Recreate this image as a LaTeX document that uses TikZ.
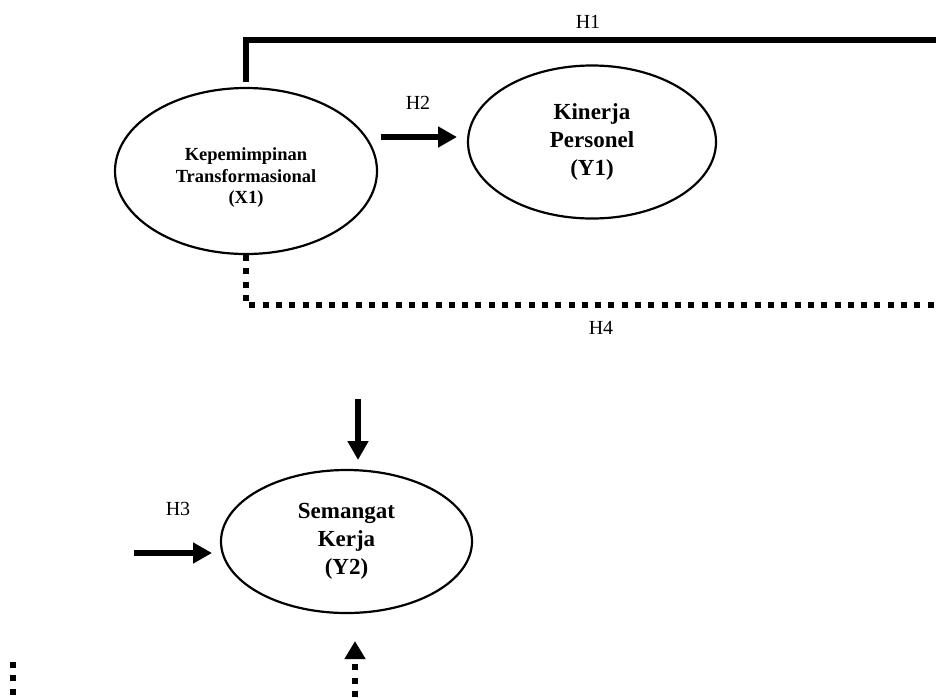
\documentclass[tikz,border=0pt]{standalone}
\usepackage{fontspec}
\setmainfont{Liberation Serif}
\usetikzlibrary{arrows.meta,shapes.geometric}

\begin{document}
\begin{tikzpicture}[x=1pt, y=-1pt]
		\tikzstyle{var}=[draw, ellipse, line width=2.2pt, inner sep=0pt, align=center, font=\bfseries\fontsize{23}{28}\selectfont];
		\tikzstyle{solid line}=[line width=6pt];
		\tikzstyle{dot line}=[line width=6pt, dash pattern=on 6pt off 7.3pt];
		\tikzstyle{arr}=[line width=6.5pt, -{Triangle[length=19pt, width=20pt]}];
		\tikzstyle{hlabel}=[font=\fontsize{20}{24}\selectfont];

		\useasboundingbox (0,0) rectangle (936,697);

		\node[var, minimum width=262pt, minimum height=166pt, text height=69pt, font=\bfseries\fontsize{18.5}{21.5}\selectfont] (X1) at (246,171) {Kepemimpinan\\Transformasional\\(X1)};
		\node[var, minimum width=248pt, minimum height=153pt] (Y1) at (592,142) {Kinerja\\Personel\\(Y1)};
		\node[var, minimum width=251pt, minimum height=143pt] (Y2) at (346.5,541.5) {Semangat\\Kerja\\(Y2)};

		\node[hlabel] (H1) at (588,22) {H1};
		\node[hlabel] (H2) at (418,103) {H2};
		\node[hlabel] (H3) at (178,509) {H3};
		\node[hlabel] (H4) at (601,328) {H4};

		\coordinate (h1end) at (936,40);
		\coordinate (h4end) at (936,305);
		\coordinate (h2a) at (381,137);
		\coordinate (h2b) at (457,137);
		\coordinate (dna) at (358,399);
		\coordinate (dnb) at (358,460);
		\coordinate (h3a) at (134,553);
		\coordinate (h3b) at (212,553);
		\coordinate (upa) at (355,697);
		\coordinate (upb) at (355,641);
		\coordinate (lfa) at (13,662);
		\coordinate (lfb) at (13,697);

		\draw[solid line] ([yshift=5pt]X1.north) |- (h1end);
		\draw[dot line] (X1.south) |- (h4end);
		\draw[arr] (h2a) -- (h2b);
		\draw[arr] (dna) -- (dnb);
		\draw[arr] (h3a) -- (h3b);
		\draw[dot line, -{Triangle[length=18pt, width=20pt]}] (upa) -- (upb);
		\draw[dot line] (lfa) -- (lfb);
	\end{tikzpicture}
\end{document}
